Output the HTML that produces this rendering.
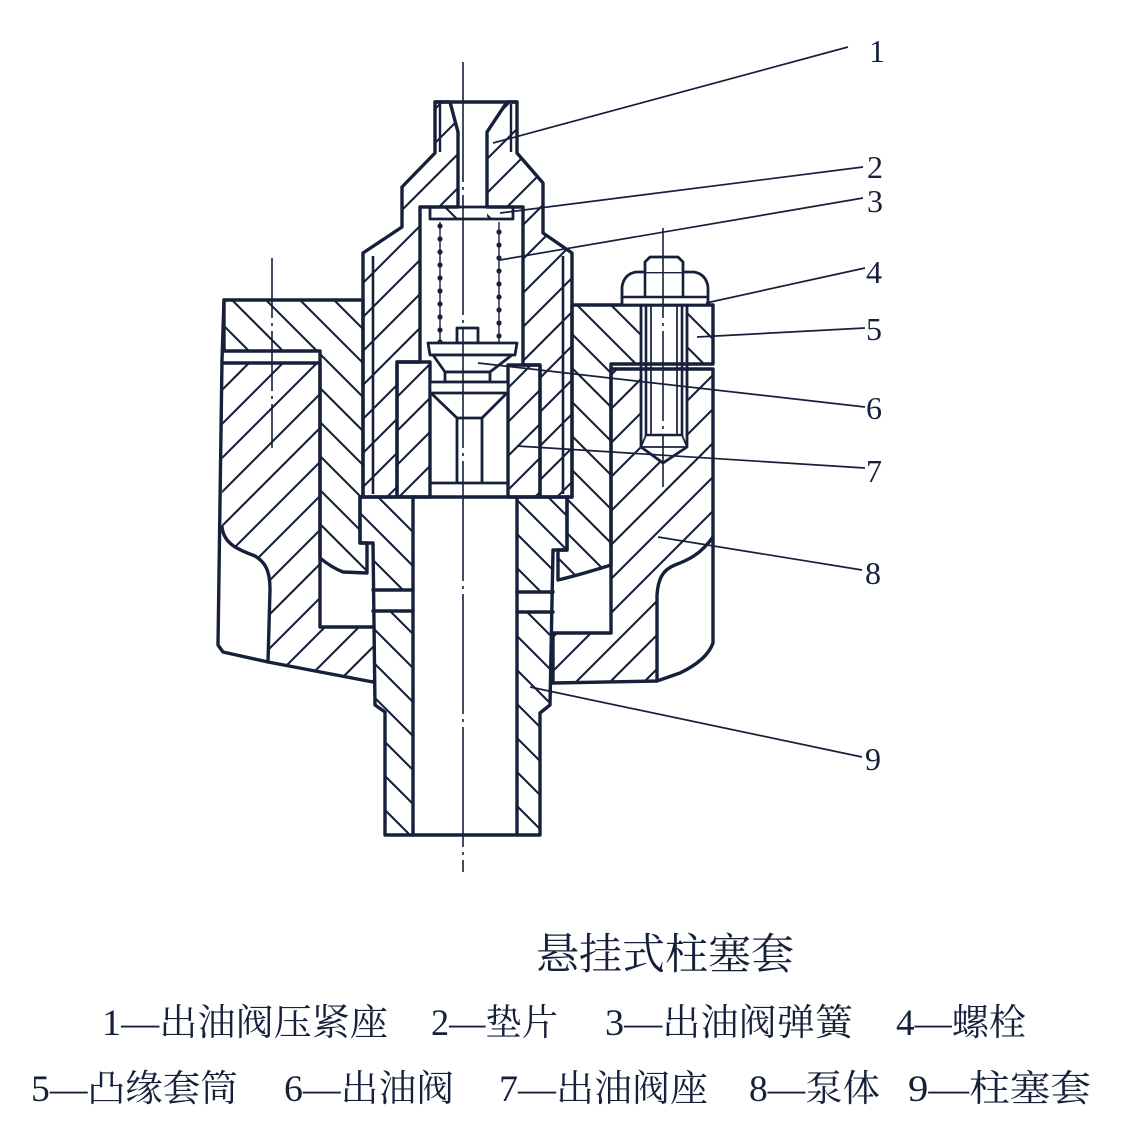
<!DOCTYPE html>
<html>
<head>
<meta charset="utf-8">
<style>
  html,body{margin:0;padding:0;background:#fff;}
  svg{display:block;}
  .ol{fill:none;stroke:#16203a;stroke-width:3.4;stroke-linejoin:round;stroke-linecap:round;}
  .th{fill:none;stroke:#16203a;stroke-width:1.7;}
  .wf{fill:#fff;stroke:#16203a;stroke-width:2.8;stroke-linejoin:round;}
  .lbl{font-family:"Liberation Serif","Noto Serif CJK SC",serif;font-size:32px;fill:#16203a;}
  .cap{font-family:"Liberation Serif","Noto Serif CJK SC",serif;fill:#16203a;}
</style>
</head>
<body>
<svg width="1127" height="1123" viewBox="0 0 1127 1123" xmlns="http://www.w3.org/2000/svg">
  <defs>
    <pattern id="hs" patternUnits="userSpaceOnUse" width="34" height="34">
      <path d="M-3,3 L3,-3 M0,34 L34,0 M31,37 L37,31" stroke="#16203a" stroke-width="2.1"/>
    </pattern>
    <pattern id="hb" patternUnits="userSpaceOnUse" width="34" height="34">
      <path d="M0,0 L34,34 M-3,31 L3,37 M31,-3 L37,3" stroke="#16203a" stroke-width="2.1"/>
    </pattern>
    <pattern id="hs2" patternUnits="userSpaceOnUse" width="34" height="34" patternTransform="translate(12,0)">
      <path d="M-3,3 L3,-3 M0,34 L34,0 M31,37 L37,31" stroke="#16203a" stroke-width="2.1"/>
    </pattern>
    <pattern id="hb2" patternUnits="userSpaceOnUse" width="34" height="34" patternTransform="translate(17,0)">
      <path d="M0,0 L34,34 M-3,31 L3,37 M31,-3 L37,3" stroke="#16203a" stroke-width="2.1"/>
    </pattern>
  </defs>

  <!-- ===== Hatched fills ===== -->
  <path fill="url(#hs)" d="M435,102 L450,102 L458,132 L458,207 L420,207 L420,362 L397,362 L397,497 L363,497 L363,253 L402,227 L402,187 L435,153 Z"/>
  <path fill="url(#hs)" d="M517,102 L507,102 L487,132 L487,207 L523,207 L523,365 L540,365 L540,497 L572,497 L572,253 L543,233 L543,183 L517,153 Z"/>
  <path fill="url(#hs2)" d="M397,362 L430,362 L430,497 L397,497 Z"/>
  <path fill="url(#hs2)" d="M508,365 L540,365 L540,497 L508,497 Z"/>
  <path fill="url(#hb)" d="M224,300 L363,300 L363,497 L360,497 L360,543 L367,543 L367,573 L343,572 C333,568 326,563 320,558 L320,351 L224,351 Z"/>
  <path fill="url(#hb)" d="M572,305 L713,305 L713,364 L611,364 L611,565 C595,570 575,576 558,580 L558,550 L567,550 L567,497 L572,497 Z"/>
  <path fill="url(#hs)" d="M223,363 L320,363 L320,627 L373,627 L373,682 L268,662 L270,590 C270,570 265,562 255,556 C240,550 224,545 222,527 Z"/>
  <path fill="url(#hs)" d="M611,369 L713,369 L713,537 C700,555 688,560 675,565 C662,570 658,580 657,595 L657,681 L553,683 L553,633 L611,633 Z"/>
  <path fill="url(#hb2)" d="M360,497 L413,497 L413,835 L385,835 L385,712 L375,705 L373,543 L360,543 Z"/>
  <path fill="url(#hb2)" d="M517,497 L567,497 L567,550 L553,550 L550,705 L540,713 L540,835 L517,835 Z"/>
  <rect x="430" y="207" width="28" height="12" fill="url(#hb)"/>
  <rect x="487" y="207" width="26" height="12" fill="url(#hb)"/>

  <!-- ===== White overlays ===== -->
  <rect x="373" y="590" width="40" height="21" fill="#fff"/>
  <rect x="517" y="592" width="36" height="20" fill="#fff"/>
  <path fill="#fff" d="M641,305 L687,305 L687,447 L663,463 L641,447 Z"/>

  <!-- ===== Outlines ===== -->
  <path class="ol" d="M435,102 L450,102 L458,132 L458,207 L420,207 L420,362 L397,362 L397,497 L363,497 L363,253 L402,227 L402,187 L435,153 Z"/>
  <path class="ol" d="M517,102 L507,102 L487,132 L487,207 L523,207 L523,365 L540,365 L540,497 L572,497 L572,253 L543,233 L543,183 L517,153 Z"/>
  <path class="ol" d="M435,102 L517,102"/>
  <path class="th" d="M440,104 L440,152 M511,104 L511,152" style="stroke-width:2.4"/>
  <path class="th" d="M373,256 L373,494 M563,256 L563,494" style="stroke-width:2.6"/>
  <path class="ol" d="M397,362 L430,362 L430,497 L397,497 Z"/>
  <path class="ol" d="M508,365 L540,365 L540,497 L508,497 Z"/>
  <path class="ol" d="M224,300 L363,300 L363,497 L360,497 L360,543 L367,543 L367,573 L343,572 C333,568 326,563 320,558 L320,351 L224,351 Z"/>
  <path class="ol" d="M572,305 L713,305 L713,364 L611,364 L611,565 C595,570 575,576 558,580 L558,550 L567,550 L567,497 L572,497 Z"/>
  <path class="ol" d="M224,300 L222,360 L218,645 L223,652 L268,662 L373,682"/>
  <path class="ol" d="M223,363 L320,363 L320,627 L373,627"/>
  <path class="ol" d="M222,527 C224,545 240,550 255,556 C265,562 270,570 270,590 L268,662"/>
  <path class="ol" d="M611,369 L713,369 L713,537 C700,555 688,560 675,565 C662,570 658,580 657,595 L657,681 L553,683 L553,633 L611,633 Z"/>
  <path class="ol" d="M713,537 L713,643 Q707,660 680,673 L657,681"/>
  <path class="ol" d="M360,497 L413,497 L413,835 L385,835 L385,712 L375,705 L373,543 L360,543 Z"/>
  <path class="ol" d="M517,497 L567,497 L567,550 L553,550 L550,705 L540,713 L540,835 L517,835 Z"/>
  <path class="ol" d="M413,497 L517,497 M413,835 L517,835"/>
  <path class="ol" d="M373,590 L413,590 M373,611 L413,611 M517,592 L553,592 M517,612 L553,612"/>
  <rect class="ol" x="430" y="207" width="83" height="12" style="stroke-width:2.8"/>

  <!-- spring (3) -->
  <path class="th" d="M440,222 L440,345 M499,222 L499,345" style="stroke-width:1.4"/>
  <g fill="#16203a">
    <circle cx="440" cy="226" r="2.6"/><circle cx="440" cy="239" r="2.6"/><circle cx="440" cy="252" r="2.6"/><circle cx="440" cy="265" r="2.6"/><circle cx="440" cy="278" r="2.6"/><circle cx="440" cy="291" r="2.6"/><circle cx="440" cy="304" r="2.6"/><circle cx="440" cy="317" r="2.6"/><circle cx="440" cy="330" r="2.6"/><circle cx="440" cy="342" r="2.6"/>
    <circle cx="499" cy="232" r="2.6"/><circle cx="499" cy="245" r="2.6"/><circle cx="499" cy="258" r="2.6"/><circle cx="499" cy="271" r="2.6"/><circle cx="499" cy="284" r="2.6"/><circle cx="499" cy="297" r="2.6"/><circle cx="499" cy="310" r="2.6"/><circle cx="499" cy="323" r="2.6"/><circle cx="499" cy="336" r="2.6"/>
  </g>

  <!-- valve (6) -->
  <rect class="wf" x="457" y="328" width="21" height="15"/>
  <path class="wf" d="M428,343 L517,343 L515,355 L430,355 Z"/>
  <path class="wf" d="M433,355 L445,372 L490,372 L512,355 Z"/>
  <rect class="wf" x="445" y="372" width="45" height="10"/>
  <rect class="wf" x="430" y="382" width="78" height="11"/>
  <path class="ol" d="M433,395 L457,418 L482,418 L505,395" style="stroke-width:2.8"/>
  <path class="ol" d="M457,418 L457,483 M482,418 L482,483 M430,483 L508,483" style="stroke-width:2.8"/>

  <!-- bolt (4) -->
  <path class="wf" d="M622,305 L622,287 Q624,274 636,272 L694,272 Q706,274 708,287 L708,305 Z"/>
  <path class="wf" d="M645,272 L645,262 L650,257 L678,257 L683,262 L683,272"/>
  <path class="th" d="M645,272 L645,297 M683,272 L683,297 M622,297 L708,297" style="stroke-width:2.6"/>
  <path class="ol" d="M641,305 L641,447 L663,463 L687,447 L687,305" style="stroke-width:2.8"/>
  <path class="ol" d="M646,305 L646,435 L682,435 L682,305" style="stroke-width:2.6"/>
  <path class="th" d="M651,305 L651,435 M677,305 L677,435 M641,447 L687,447" style="stroke-width:1.7"/>
  <path class="th" d="M646,435 L641,447 M682,435 L687,447"/>

  <!-- ===== centerlines ===== -->
  <path class="th" d="M463,62 L463,872" style="stroke-width:1.6" stroke-dasharray="120 5 3 5"/>
  <path class="th" d="M663,228 L663,487" style="stroke-width:1.6" stroke-dasharray="90 5 3 5"/>
  <path class="th" d="M272,258 L272,448" style="stroke-width:1.6" stroke-dasharray="60 5 3 5"/>

  <!-- ===== leaders ===== -->
  <g class="th" style="stroke-width:1.7">
    <path d="M848,47 L493,143"/>
    <path d="M863,167 L500,213"/>
    <path d="M863,198 L500,260"/>
    <path d="M865,268 L706,303"/>
    <path d="M865,328 L697,337"/>
    <path d="M865,407 L478,363"/>
    <path d="M865,468 L517,446"/>
    <path d="M862,570 L658,537"/>
    <path d="M862,757 L530,687"/>
  </g>

  <!-- ===== labels ===== -->
  <text class="lbl" x="869" y="62">1</text>
  <text class="lbl" x="867" y="178">2</text>
  <text class="lbl" x="867" y="212">3</text>
  <text class="lbl" x="866" y="283">4</text>
  <text class="lbl" x="866" y="340">5</text>
  <text class="lbl" x="866" y="419">6</text>
  <text class="lbl" x="866" y="482">7</text>
  <text class="lbl" x="865" y="584">8</text>
  <text class="lbl" x="865" y="770">9</text>

  <!-- ===== captions ===== -->
  <text class="cap" x="536" y="969" font-size="43" textLength="258" lengthAdjust="spacingAndGlyphs">悬挂式柱塞套</text>

  <text class="cap" x="102" y="1035" font-size="37" textLength="286" lengthAdjust="spacingAndGlyphs">1—出油阀压紧座</text>
  <text class="cap" x="431" y="1035" font-size="37" textLength="127" lengthAdjust="spacingAndGlyphs">2—垫片</text>
  <text class="cap" x="605" y="1035" font-size="37" textLength="248" lengthAdjust="spacingAndGlyphs">3—出油阀弹簧</text>
  <text class="cap" x="896" y="1035" font-size="37" textLength="130" lengthAdjust="spacingAndGlyphs">4—螺栓</text>

  <text class="cap" x="31" y="1101" font-size="37" textLength="207" lengthAdjust="spacingAndGlyphs">5—凸缘套筒</text>
  <text class="cap" x="284" y="1101" font-size="37" textLength="170" lengthAdjust="spacingAndGlyphs">6—出油阀</text>
  <text class="cap" x="499" y="1101" font-size="37" textLength="209" lengthAdjust="spacingAndGlyphs">7—出油阀座</text>
  <text class="cap" x="749" y="1101" font-size="37" textLength="131" lengthAdjust="spacingAndGlyphs">8—泵体</text>
  <text class="cap" x="908" y="1101" font-size="37" textLength="183" lengthAdjust="spacingAndGlyphs">9—柱塞套</text>
</svg>
</body>
</html>
